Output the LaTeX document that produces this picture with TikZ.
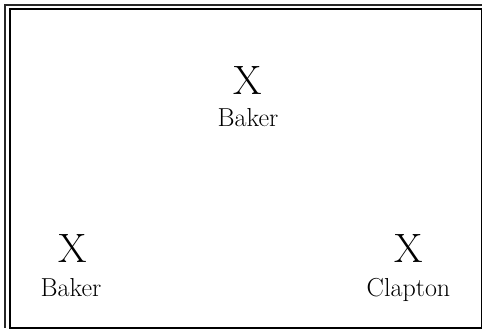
\documentclass[tikz,border=0pt]{standalone}
\usepackage{fontspec}
\begin{document}
\begin{tikzpicture}[x=1pt,y=-1pt,
  xglyph/.style={font=\fontsize{41}{41}\selectfont, inner sep=0pt, anchor=base},
  lab/.style={font=\fontsize{26}{26}\selectfont, inner sep=0pt, anchor=base},
  frame/.style={line width=1.8pt},
  outerline/.style={line width=1.2pt, black!85}]
\useasboundingbox (0,0) rectangle (483,329);
\draw[frame] (10,9) rectangle (481.5,328);
\draw[outerline] (481.5,5) -- (5,5) -- (5,328);
\node[xglyph] (x1) at (248,95) {X};
\node[lab] (l1) at (248,127) {Baker};
\node[xglyph] (x2) at (73,262) {X};
\node[lab] (l2) at (71,297) {Baker};
\node[xglyph] (x3) at (408.5,262) {X};
\node[lab] (l3) at (408.5,297) {Clapton};
\end{tikzpicture}
\end{document}
